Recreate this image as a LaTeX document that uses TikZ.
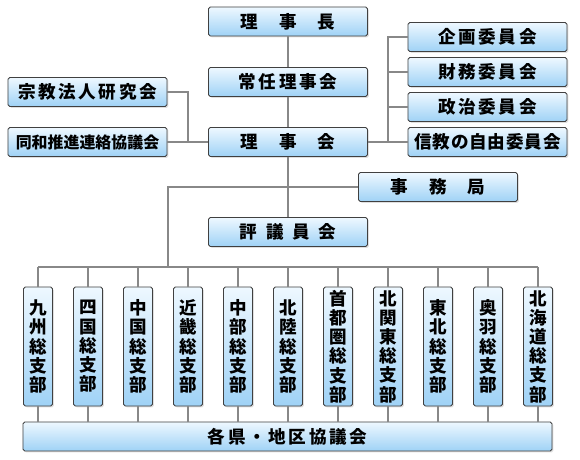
\documentclass[tikz,border=0pt]{standalone}
\usepackage{fontspec}
\newfontfamily\jpfont{Noto Sans CJK JP}
\usetikzlibrary{shadows}
\definecolor{boxtop}{HTML}{EEF8FF}
\definecolor{boxbot}{HTML}{9FD2F6}
\definecolor{linegray}{HTML}{888888}
\makeatletter
\newcommand{\spread}[2]{\def\sp@gap{#1}\@tfor\sp@c:=#2\do{\sp@c\hspace{\sp@gap}}\unskip}
\makeatother
\tikzset{
  orgbox/.style={draw=black!75, line width=0.7pt, rounded corners=1.5pt,
    top color=boxtop, bottom color=boxbot, inner sep=0pt,
    font=\jpfont\bfseries\fontsize{15}{16.4}\selectfont,
    drop shadow={opacity=0.25, shadow xshift=1.2pt, shadow yshift=-1.2pt}},
  widebox/.style={orgbox, minimum width=4.77cm, minimum height=0.87cm},
  branch/.style={orgbox, minimum width=0.87cm, minimum height=3.57cm, align=center},
  link/.style={draw=linegray, line width=1.7pt}
}
\begin{document}
\begin{tikzpicture}[x=0.03cm,y=-0.03cm]
 \useasboundingbox (0,0) rectangle (580,460);
 % centre column
 \node[widebox] (chair) at (288,21.5) {\spread{1.2em}{理事長}};
 \node[widebox] (standing) at (288,82) {\spread{0.15em}{常任理事会}};
 \node[widebox] (board) at (288,142) {\spread{1.2em}{理事会}};
 \node[widebox] (office) at (438,187) {\spread{1.2em}{事務局}};
 \node[widebox] (council) at (288,232) {\spread{0.5em}{評議員会}};
 % left side
 \node[widebox] (religion) at (87.5,92) {\spread{0.15em}{宗教法人研究会}};
 \node[widebox, font=\jpfont\bfseries\fontsize{13.6}{16}\selectfont] (dowa) at (87.5,142) {同和推進連絡協議会};
 % committees
 \node[widebox] (plan) at (487.5,37) {\spread{0.15em}{企画委員会}};
 \node[widebox] (finance) at (487.5,72) {\spread{0.15em}{財務委員会}};
 \node[widebox] (politics) at (487.5,107) {\spread{0.15em}{政治委員会}};
 \node[widebox] (freedom) at (487.5,142) {\spread{0.05em}{信教の自由委員会}};
 % branches
 \foreach \t [count=\i from 0] in {{九\\州\\総\\支\\部},{四\\国\\総\\支\\部},{中\\国\\総\\支\\部},
   {近\\畿\\総\\支\\部},{中\\部\\総\\支\\部},{北\\陸\\総\\支\\部},{首\\都\\圏\\総\\支\\部},
   {北\\関\\東\\総\\支\\部},{東\\北\\総\\支\\部},{奥\\羽\\総\\支\\部},{北\\海\\道\\総\\支\\部}}
   \node[branch] (b\i) at (38+50*\i,346.5) {\t};
 \node[orgbox, minimum width=15.87cm, minimum height=0.87cm] (pref) at (287.5,436.5) {\spread{0.15em}{各県・地区協議会}};
 % connectors
 \coordinate (lj) at (188,142);
 \coordinate (rj) at (388,37);
 \coordinate (bus) at (168,267);
 \draw[link] (chair) -- (standing);
 \draw[link] (standing) -- (board);
 \draw[link] (board) -- (council);
 \draw[link] (religion.east) -| (lj);
 \draw[link] (dowa.east) -- (board.west);
 \draw[link] (plan.west) -- (rj) |- (board.east);
 \draw[link] (finance.west) -- (finance.west -| rj);
 \draw[link] (politics.west) -- (politics.west -| rj);
 \draw[link] (freedom.west) -- (board.east);
 \draw[link] (office.west) -| (bus);
 \draw[link] (b0.north |- bus) -- (b10.north |- bus);
 \foreach \i in {0,...,10} {
   \draw[link] (b\i.north) -- (b\i.north |- bus);
   \draw[link] (b\i.south) -- (b\i.south |- pref.north);
 }
\end{tikzpicture}
\end{document}
